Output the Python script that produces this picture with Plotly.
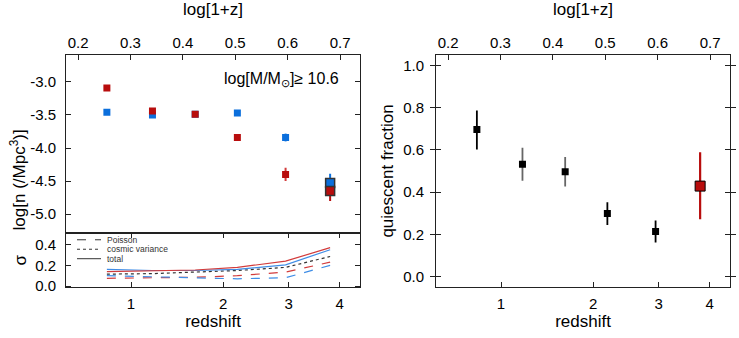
import numpy as np
import plotly.graph_objects as go

# ---------------- data ----------------
logz_ticks = [0.2, 0.3, 0.4, 0.5, 0.6, 0.7]
redshift_ticks = [1, 2, 3, 4]
lz = [0.255, 0.342, 0.4235, 0.504, 0.596, 0.681]          # log(1+z) of bins

n_red = [-3.09, -3.44, -3.49, -3.84, -4.40, -4.65]
n_red_err = [0.03, 0.04, 0.04, 0.05, 0.10, 0.15]
n_blue = [-3.46, -3.50, -3.49, -3.47, -3.84, -4.53]
n_blue_err = [0.04, 0.04, 0.04, 0.04, 0.06, 0.14]

sig_red_total = [0.14, 0.145, 0.155, 0.18, 0.24, 0.37]
sig_blue_total = [0.16, 0.15, 0.15, 0.16, 0.205, 0.35]
sig_cosmic = [0.115, 0.12, 0.135, 0.15, 0.18, 0.285]
sig_red_poisson = [0.075, 0.078, 0.085, 0.10, 0.135, 0.23]
sig_blue_poisson = [0.10, 0.09, 0.075, 0.07, 0.08, 0.20]

qf = [0.697, 0.532, 0.497, 0.299, 0.214, 0.429]
qf_err_plus = [0.09, 0.078, 0.07, 0.053, 0.052, 0.16]
qf_err_minus = [0.095, 0.078, 0.07, 0.054, 0.052, 0.157]

# ---------------- style ----------------
W, H = 739, 338
HEFF = 332  # rendered height of the page area
FONT = "Liberation Sans, Arial, Helvetica, sans-serif"
RED = "#b80d0d"
BLUE = "#0b6fdc"
LRED = "#d23c3c"
LBLUE = "#3f8de6"
AX = "#222222"
XR = [0.177, 0.738]

def px(v):
    return v / W

def py(v):
    return 1 - v / HEFF

LX = [px(66), px(360)]
RX = [px(436), px(730)]
TOPY = [py(234), py(55)]
BOTY = [py(288), py(234)]
FULLY = [py(288), py(55)]

fig = go.Figure()

# --- left top: number density ---
fig.add_trace(go.Scatter(x=lz[:5], y=n_blue[:5], mode="markers", xaxis="x", yaxis="y",
                         marker=dict(symbol="square", size=7, color=BLUE),
                         error_y=dict(type="data", array=n_blue_err[:5], color=LBLUE, thickness=2, width=0),
                         showlegend=False))
fig.add_trace(go.Scatter(x=lz[:5], y=n_red[:5], mode="markers", xaxis="x", yaxis="y",
                         marker=dict(symbol="square", size=7, color=RED),
                         error_y=dict(type="data", array=n_red_err[:5], color=LRED, thickness=2, width=0),
                         showlegend=False))
fig.add_trace(go.Scatter(x=lz[5:], y=n_blue[5:], mode="markers", xaxis="x", yaxis="y",
                         marker=dict(symbol="square", size=9, color=BLUE, line=dict(color="#333333", width=1.5)),
                         error_y=dict(type="data", array=n_blue_err[5:], arrayminus=[0], color=BLUE, thickness=2, width=0),
                         showlegend=False))
fig.add_trace(go.Scatter(x=lz[5:], y=n_red[5:], mode="markers", xaxis="x", yaxis="y",
                         marker=dict(symbol="square", size=9, color=RED, line=dict(color="#333333", width=1.5)),
                         error_y=dict(type="data", array=[0], arrayminus=n_red_err[5:], color=RED, thickness=2, width=0),
                         showlegend=False))

# --- left bottom: sigma ---
def line(y, color, dash):
    fig.add_trace(go.Scatter(x=lz, y=y, mode="lines", xaxis="x3", yaxis="y3",
                             line=dict(color=color, width=1.2, dash=dash), showlegend=False))

line(sig_red_poisson, LRED, "dash")
line(sig_blue_poisson, LBLUE, "dash")
line(sig_cosmic, "#333333", "dot")
line(sig_blue_total, LBLUE, "solid")
line(sig_red_total, LRED, "solid")

# --- right: quiescent fraction ---
gray_bar = ["black", "#666666", "#666666", "black", "black"]
for i in range(5):
    fig.add_trace(go.Scatter(x=[lz[i]], y=[qf[i]], mode="markers", xaxis="x4", yaxis="y2",
                             marker=dict(symbol="square", size=7, color="black"),
                             error_y=dict(type="data", array=[qf_err_plus[i]], arrayminus=[qf_err_minus[i]],
                                          color=gray_bar[i], thickness=1.8, width=0),
                             showlegend=False))
fig.add_trace(go.Scatter(x=lz[5:], y=qf[5:], mode="markers", xaxis="x4", yaxis="y2",
                         marker=dict(symbol="square", size=10, color=RED, line=dict(color="black", width=1)),
                         error_y=dict(type="data", array=qf_err_plus[5:], arrayminus=qf_err_minus[5:],
                                      color=RED, thickness=2.2, width=0),
                         showlegend=False))
# invisible trace to show the redshift axis of the right panel
fig.add_trace(go.Scatter(x=[lz[0]], y=[qf[0]], mode="markers", xaxis="x2", yaxis="y2",
                         marker=dict(opacity=0), hoverinfo="skip", showlegend=False))

tickfont = dict(family=FONT, size=15, color="black")
titlefont = dict(family=FONT, size=17, color="black")
zvals = [float(np.log10(1 + z)) for z in redshift_ticks]
ztext = [str(z) for z in redshift_ticks]

common = dict(showline=True, linecolor=AX, linewidth=1, ticks="inside", ticklen=5,
              tickcolor=AX, showgrid=False, zeroline=False, tickfont=tickfont)

fig.update_layout(
    width=W, height=H, margin=dict(l=0, r=0, t=0, b=0),
    paper_bgcolor="white", plot_bgcolor="white",
    font=dict(family=FONT, color="black"),
    xaxis=dict(domain=LX, anchor="y", side="top", range=XR, tickvals=logz_ticks,
               ticktext=[f"{v:.1f}" for v in logz_ticks], mirror=True,
               title=dict(text="log[1+z]", font=titlefont, standoff=13), ticklabelstandoff=0, **common),
    yaxis=dict(domain=TOPY, anchor="x", range=[-5.29, -2.59], tickvals=[-3.0, -3.5, -4.0, -4.5, -5.0],
               ticktext=["-3.0", "-3.5", "-4.0", "-4.5", "-5.0"], mirror="allticks",
               ticklabelstandoff=6, **common),
    xaxis3=dict(domain=LX, anchor="y3", range=XR, tickvals=zvals, ticktext=ztext, mirror="allticks",
                title=dict(text="redshift", font=titlefont, standoff=2), ticklabelstandoff=3, **common),
    yaxis3=dict(domain=BOTY, anchor="x3", range=[-0.01, 0.508], tickvals=[0.0, 0.2, 0.4],
                ticktext=["0.0", "0.2", "0.4"], mirror="allticks",
                title=dict(text="σ", font=titlefont, standoff=4), ticklabelstandoff=6, **common),
    xaxis2=dict(domain=RX, anchor="y2", range=XR, tickvals=zvals, ticktext=ztext, mirror=True,
                title=dict(text="redshift", font=titlefont, standoff=2), ticklabelstandoff=3, **common),
    xaxis4=dict(domain=RX, anchor="y2", overlaying="x2", side="top", range=XR, tickvals=logz_ticks,
                ticktext=[f"{v:.1f}" for v in logz_ticks],
                title=dict(text="log[1+z]", font=titlefont, standoff=13), ticklabelstandoff=0, **common),
    yaxis2=dict(domain=FULLY, anchor="x2", range=[-0.049, 1.05], tickvals=[0.0, 0.2, 0.4, 0.6, 0.8, 1.0],
                ticktext=["0.0", "0.2", "0.4", "0.6", "0.8", "1.0"], mirror="allticks",
                title=dict(text="quiescent fraction", font=titlefont, standoff=5),
                ticklabelstandoff=8, **common),
)

# y title of the number density panel (centered on the whole left column)
fig.add_annotation(x=px(18), y=py(181), xref="paper", yref="paper", xanchor="center", yanchor="middle",
                   text="log[n (/Mpc<sup>3</sup>)]", textangle=-90, showarrow=False, font=titlefont)

# mass label
fig.add_annotation(x=px(341), y=py(80), xref="paper", yref="paper", xanchor="right", yanchor="middle",
                   text="log[M/M<sub>⊙</sub>]≥ 10.6", showarrow=False,
                   font=dict(family=FONT, size=16, color="black"))

# small legend in the sigma panel
leg = [("Poisson", "dash"), ("cosmic variance", "dot"), ("total", "solid")]
for i, (name, dash) in enumerate(leg):
    yy = 240.5 + 9.5 * i
    fig.add_shape(type="line", xref="paper", yref="paper", x0=px(77), x1=px(101), y0=py(yy), y1=py(yy),
                  line=dict(color="#333333", width=1, dash=dash))
    fig.add_annotation(x=px(106), y=py(yy), xref="paper", yref="paper", xanchor="left", yanchor="middle",
                       text=name, showarrow=False, borderpad=0,
                       font=dict(family=FONT, size=8.5, color="#333333"))

fig.write_html("out.html", config={"displayModeBar": False},
               post_script="document.body.style.margin='0px';")
